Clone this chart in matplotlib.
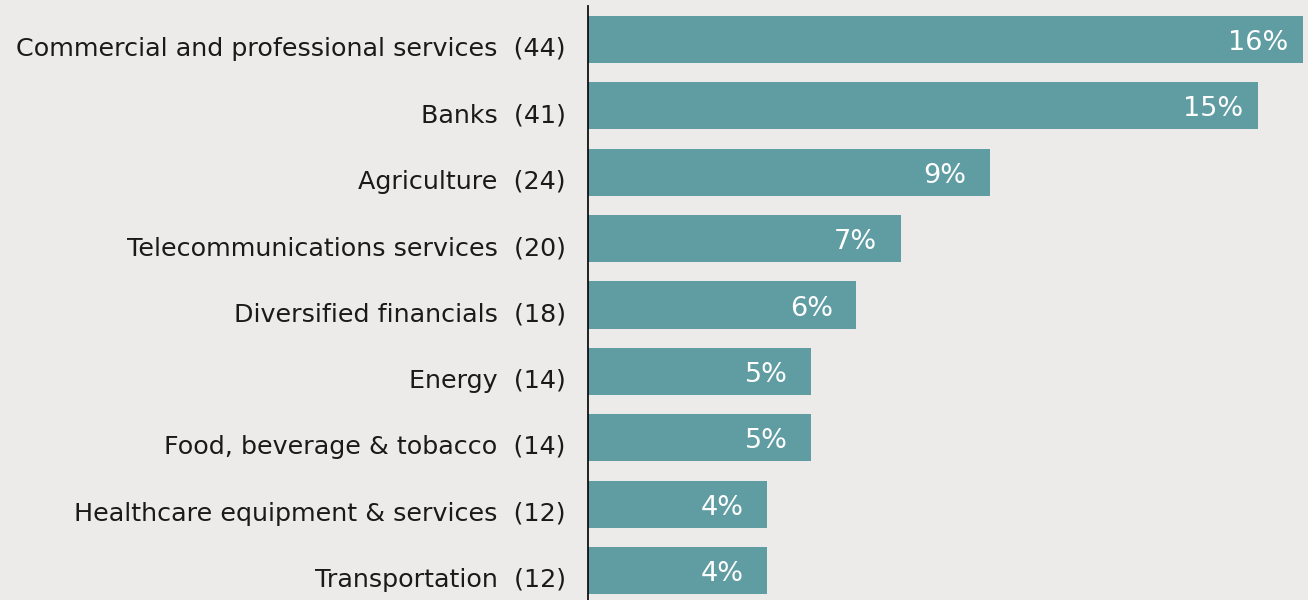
import matplotlib.pyplot as plt
import numpy as np

# sector counts and shares
sectors = ['Commercial and professional services', 'Banks', 'Agriculture',
           'Telecommunications services', 'Diversified financials', 'Energy',
           'Food, beverage & tobacco', 'Healthcare equipment & services',
           'Transportation']
counts = [44, 41, 24, 20, 18, 14, 14, 12, 12]
shares = [16, 15, 9, 7, 6, 5, 5, 4, 4]

bg = '#ecebe9'
bar_col = '#5f9da3'
px = 72 / 100  # points per pixel

fig = plt.figure(figsize=(13.08, 6.0), dpi=100, facecolor=bg)
ax = fig.add_axes([588 / 1308, -4 / 600, 720 / 1308, 598 / 600])
ax.set_facecolor(bg)

y = np.arange(len(sectors))
ax.barh(y, shares, height=0.71, color=bar_col)
ax.set_ylim(len(sectors) - 0.5, -0.5)
ax.set_xlim(0, 16 * 720 / 715)

for yi, s in zip(y, shares):
    ax.annotate(f'{s}%', (s, yi), xytext=(-45 * px, -10.5 * px),
                textcoords='offset points', ha='center', va='baseline',
                color='white', fontsize=19.5)

for yi, n, c in zip(y, sectors, counts):
    ax.annotate(f'{n}  ({c})', (0, yi), xytext=(-22 * px, -16.5 * px),
                textcoords='offset points', ha='right', va='baseline',
                color='#1a1a1a', fontsize=18.3, annotation_clip=False)

ax.set_yticks([])
ax.set_xticks([])
for side in ['top', 'right', 'bottom']:
    ax.spines[side].set_visible(False)
ax.spines['left'].set_linewidth(1.3)
ax.spines['left'].set_color('#111111')
ax.spines['left'].set_bounds(-0.5, len(sectors) - 0.5)

fig.savefig('out.png', dpi=100, facecolor=bg)
